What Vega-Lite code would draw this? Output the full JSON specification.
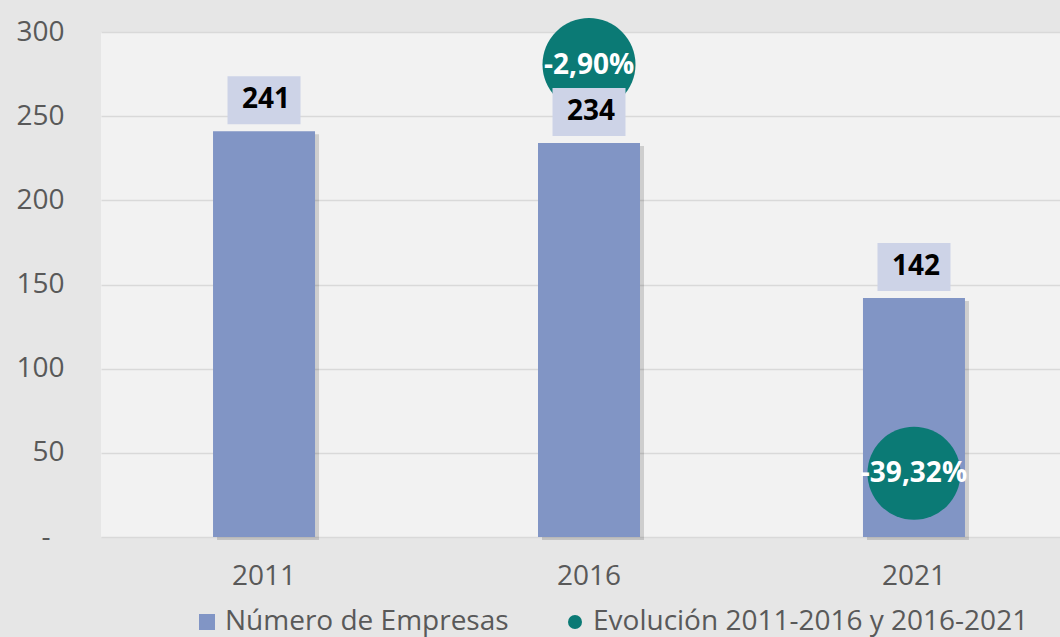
{
  "$schema": "https://vega.github.io/schema/vega-lite/v6.json",
  "width": 959,
  "height": 505,
  "autosize": {"type": "none"},
  "padding": {"left": 101, "top": 32, "right": 0, "bottom": 100},
  "background": "#e6e6e6",
  "config": {
    "font": "Open Sans",
    "view": {"fill": "#f2f2f2", "stroke": null},
    "locale": {"number": {"decimal": ",", "thousands": ".", "grouping": [3], "currency": ["", " €"], "minus": "-"}}
  },
  "data": {
    "values": [
      {"year": "2011", "empresas": 241, "evol": null},
      {"year": "2016", "empresas": 234, "evol": -0.029},
      {"year": "2021", "empresas": 142, "evol": -0.3932}
    ]
  },
  "encoding": {
    "x": {
      "field": "year", "type": "nominal",
      "scale": {"paddingInner": 0.5, "paddingOuter": 0.2255, "align": 0.558},
      "axis": {"title": null, "labelAngle": 0, "ticks": false, "domain": false, "labelFontSize": 28, "labelColor": "#595959", "labelPadding": 25, "labelFont": "Open Sans"}
    }
  },
  "layer": [
    {
      "encoding": {
        "y": {
          "field": "empresas", "type": "quantitative",
          "scale": {"domain": [0, 300]},
          "axis": {"title": null, "values": [0, 50, 100, 150, 200, 250, 300], "ticks": false, "domain": false, "grid": true, "gridColor": "#d9d9d9", "gridWidth": 1.5, "labelFontSize": 28, "labelColor": "#595959",
            "labelPadding": {"condition": {"test": "datum.value == 0", "value": 51}, "value": 37},
            "labelExpr": "datum.value == 0 ? '-' : datum.label"}
        }
      },
      "layer": [
        {"mark": {"type": "bar", "size": 102, "color": "#000000", "opacity": 0.15, "xOffset": 4, "yOffset": 3}},
        {
          "mark": {"type": "bar", "size": 102},
          "encoding": {
            "color": {
              "datum": "Número de Empresas",
              "scale": {"domain": ["Número de Empresas", "Evolución 2011-2016 y 2016-2021"], "range": ["#8195c5", "#0b7a75"]},
              "legend": {
                "title": null, "orient": "none", "direction": "horizontal", "legendX": 92, "legendY": 576,
                "labelFontSize": 28, "labelColor": "#595959", "labelFont": "Open Sans", "labelLimit": 0, "symbolOpacity": 1,
                "columnPadding": 52, "labelOffset": 4, "symbolStrokeWidth": 0,
                "encode": {
                  "symbols": {"update": {
                    "shape": {"signal": "datum.value === 'Número de Empresas' ? 'square' : 'circle'"},
                    "size": {"signal": "datum.value === 'Número de Empresas' ? 256 : 196"}
                  }}
                }
              }
            }
          }
        }
      ]
    },
    {
      "transform": [{"filter": "datum.evol != null"}],
      "encoding": {
        "y": {"field": "evol", "type": "quantitative", "scale": {"domain": [-0.45, 0]}, "axis": null}
      },
      "layer": [
        {"mark": {"type": "point", "filled": true, "opacity": 1, "size": 8650, "shape": "circle"}, "encoding": {"color": {"datum": "Evolución 2011-2016 y 2016-2021"}}},
        {"mark": {"type": "text", "color": "#ffffff", "fontWeight": "bold", "fontSize": 28, "baseline": "middle", "dy": 1}, "encoding": {"text": {"field": "evol", "type": "quantitative", "format": ".2%"}}}
      ]
    },
    {
      "encoding": {
        "y": {"field": "empresas", "type": "quantitative", "scale": {"domain": [0, 300]}, "axis": null}
      },
      "layer": [
        {"mark": {"type": "tick", "color": "#cdd3e7", "size": 73, "thickness": 48, "opacity": 1, "yOffset": -31}},
        {"mark": {"type": "text", "color": "#000000", "fontWeight": "bold", "fontSize": 28, "baseline": "middle", "yOffset": -31, "dx": 2}, "encoding": {"text": {"field": "empresas", "type": "quantitative", "format": "d"}}}
      ]
    }
  ],
  "resolve": {"scale": {"y": "independent"}}
}
